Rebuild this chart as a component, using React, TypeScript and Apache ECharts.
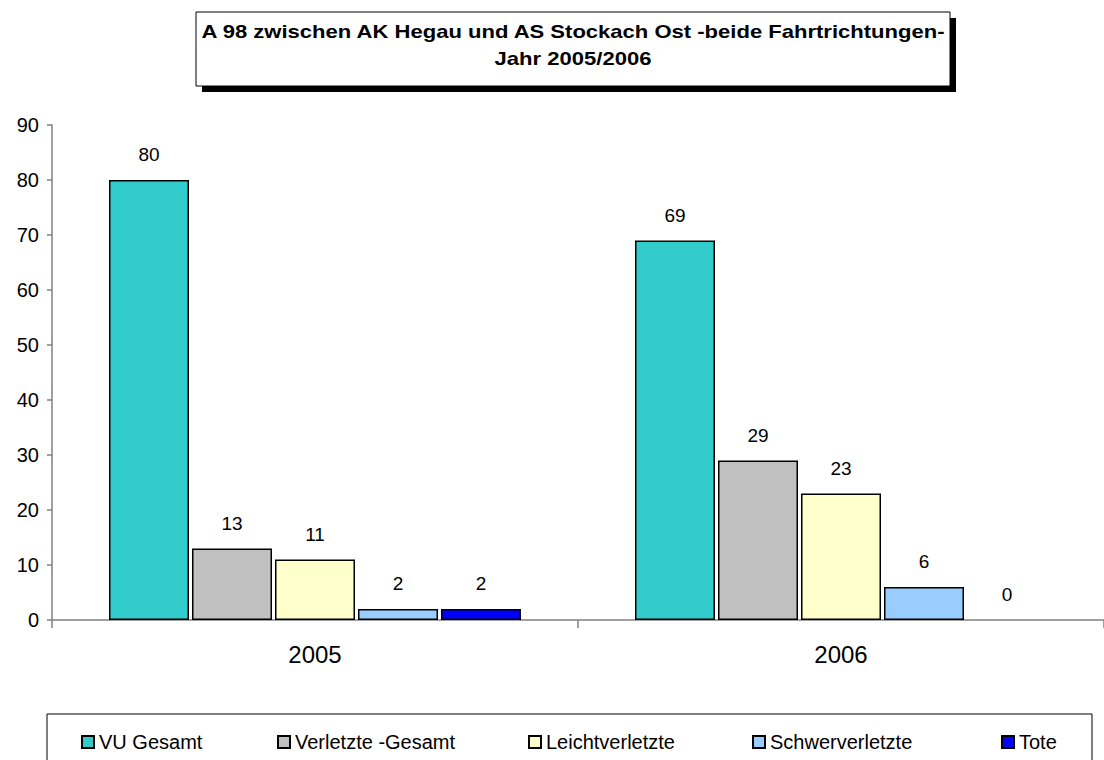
import React, { useEffect, useRef } from "react";
import * as echarts from "echarts";

const categories = ["2005", "2006"];
const seriesNames = ["VU Gesamt", "Verletzte -Gesamt", "Leichtverletzte", "Schwerverletzte", "Tote"];
const vuGesamt = [80, 69];
const verletzteGesamt = [13, 29];
const leichtverletzte = [11, 23];
const schwerverletzte = [2, 6];
const tote = [2, 0];
const yTicks = [0, 10, 20, 30, 40, 50, 60, 70, 80, 90];
const titleLines = ["A 98 zwischen AK Hegau und AS Stockach Ost -beide Fahrtrichtungen-", "Jahr 2005/2006"];

const colors = ["#33CCCC", "#C0C0C0", "#FFFFCC", "#99CCFF", "#0000FF"];
const legendLefts = [81, 277, 528, 752, 1001];
const FONT = "Liberation Sans";

export default function App() {
  const ref = useRef<HTMLDivElement>(null);
  useEffect(() => {
    if (!ref.current) return;
    const chart = echarts.init(ref.current, null, { renderer: "svg" });
    const values = [vuGesamt, verletzteGesamt, leichtverletzte, schwerverletzte, tote];
    const series = seriesNames.map((name, i) => ({
      name,
      type: "bar",
      data: values[i].map((v) => (v === 0 ? { value: v, itemStyle: { borderWidth: 0 } } : v)),
      barWidth: 80,
      barGap: "3.75%",
      itemStyle: { color: colors[i], borderColor: "#000", borderWidth: 1.5 },
      label: {
        show: true,
        position: "top",
        distance: 16,
        color: "#000",
        fontSize: 19,
        fontFamily: FONT,
      },
    }));
    chart.setOption({
      animation: false,
      backgroundColor: "#fff",
      textStyle: { fontFamily: FONT },
      grid: { left: 52, top: 125, width: 1060, height: 495, containLabel: false },
      xAxis: {
        type: "category",
        data: categories,
        axisLine: { lineStyle: { color: "#808080", width: 1.5 } },
        axisTick: { show: true, length: 8, lineStyle: { color: "#808080", width: 1.5 } },
        axisLabel: { color: "#000", fontSize: 24, margin: 22, fontFamily: FONT },
      },
      yAxis: {
        type: "value",
        min: yTicks[0],
        max: yTicks[yTicks.length - 1],
        interval: 10,
        axisLine: { show: true, lineStyle: { color: "#808080", width: 1.5 } },
        axisTick: { show: true, length: 5, lineStyle: { color: "#808080", width: 1.5 } },
        axisLabel: { color: "#000", fontSize: 20, margin: 13, fontFamily: FONT },
        splitLine: { show: false },
      },
      legend: seriesNames.map((name, i) => ({
        data: [name],
        left: legendLefts[i],
        top: 732,
        padding: 0,
        itemWidth: 12,
        itemHeight: 12,
        icon: "rect",
        selectedMode: false,
        textStyle: { color: "#000", fontSize: 20, fontFamily: FONT },
      })),
      graphic: [
        { type: "rect", z: -1, shape: { x: 47, y: 714, width: 1045, height: 70 }, style: { fill: "#fff", stroke: "#000", lineWidth: 1 } },
        { type: "rect", z: 10, shape: { x: 202, y: 18, width: 754, height: 74 }, style: { fill: "#000" } },
        { type: "rect", z: 11, shape: { x: 196, y: 12, width: 754, height: 74 }, style: { fill: "#fff", stroke: "#000", lineWidth: 1 } },
        {
          type: "text", z: 12, x: 573, y: 32, scaleX: 1.225,
          style: { text: titleLines[0], fill: "#000", fontFamily: FONT, fontWeight: "bold", fontSize: 18, textAlign: "center", textVerticalAlign: "middle" },
        },
        {
          type: "text", z: 12, x: 573, y: 59, scaleX: 1.225,
          style: { text: titleLines[1], fill: "#000", fontFamily: FONT, fontWeight: "bold", fontSize: 18, textAlign: "center", textVerticalAlign: "middle" },
        },
      ],
      series,
    });
    return () => chart.dispose();
  }, []);
  return <div ref={ref} style={{ position: "fixed", left: 0, top: 0, width: 1104, height: 760 }} />;
}
